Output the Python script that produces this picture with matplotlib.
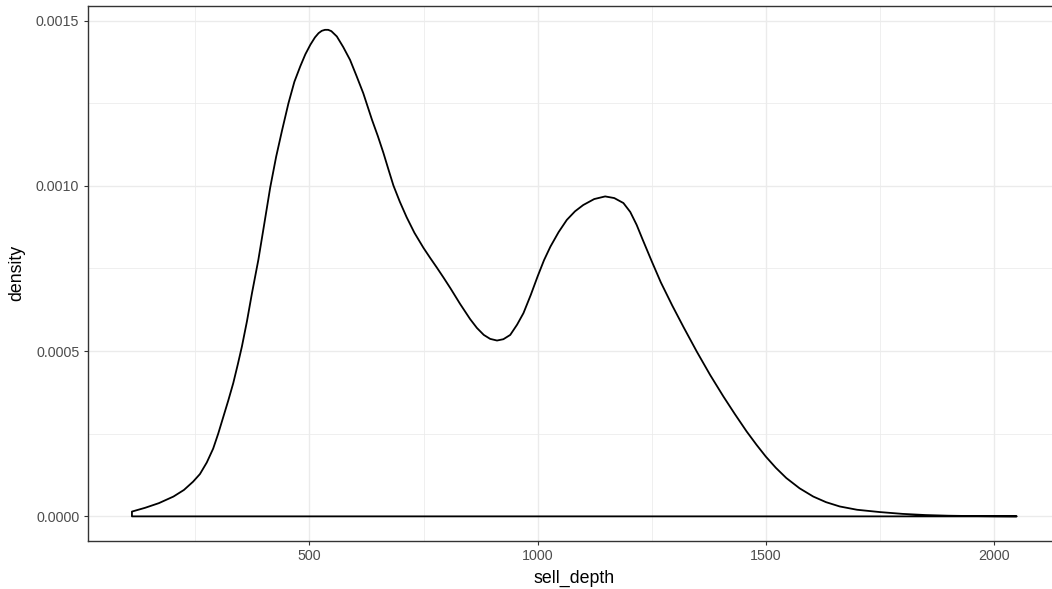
import matplotlib
matplotlib.use("Agg")
import matplotlib.pyplot as plt
from matplotlib.ticker import MultipleLocator, FixedLocator

plt.rcParams['font.family'] = ['Liberation Sans', 'DejaVu Sans']

# density curve of sell_depth
sell_depth = [111, 140, 170, 202, 225, 245, 260, 275, 289, 300, 311, 322,
              333, 343, 352, 363, 374, 388, 401, 414, 427, 440, 454, 467,
              480, 491, 502, 512, 520, 527, 534, 541, 548, 560, 574, 589,
              603, 618, 637, 650, 662, 673, 684, 698, 713, 730, 750, 765,
              779, 794, 809, 830, 852, 867, 882, 896, 911, 925, 940, 955,
              969, 985, 1000, 1014, 1028, 1046, 1064, 1082, 1100, 1124,
              1148, 1168, 1188, 1203, 1217, 1230, 1250, 1270, 1295, 1320,
              1349, 1378, 1407, 1432, 1458, 1480, 1500, 1522, 1545, 1574,
              1604, 1632, 1662, 1700, 1750, 1800, 1850, 1900, 1950, 2000,
              2050]
density = [0.0000145, 0.000026, 0.00004, 0.00006, 0.00008, 0.000105,
           0.000128, 0.000163, 0.000205, 0.00025, 0.0003, 0.00035,
           0.000403, 0.00046, 0.000514, 0.00059, 0.000675, 0.000776,
           0.000885, 0.000995, 0.001088, 0.001168, 0.00125, 0.001315,
           0.001362, 0.001398, 0.001427, 0.001449, 0.001462, 0.001469,
           0.001472, 0.001472, 0.001468, 0.001452, 0.00142, 0.001381,
           0.001333, 0.00128, 0.0012, 0.00115, 0.0011, 0.00105,
           0.001001, 0.000952, 0.000905, 0.000858, 0.000812, 0.000781,
           0.000753, 0.000722, 0.00069, 0.000643, 0.000597, 0.00057,
           0.000549, 0.000537, 0.000532, 0.000536, 0.000549, 0.00058,
           0.000615, 0.00067, 0.000726, 0.000775, 0.000816, 0.00086,
           0.000897, 0.000923, 0.000942, 0.00096, 0.000968, 0.000963,
           0.000948, 0.000921, 0.000882, 0.000838, 0.000772, 0.000708,
           0.000638, 0.000572, 0.000498, 0.000428, 0.000363, 0.00031,
           0.000257, 0.000216, 0.000181, 0.000147, 0.000116, 0.000085,
           0.00006, 0.000043, 0.00003, 0.00002, 0.000013, 0.0000075,
           0.000004, 0.000002, 0.000001, 0.0000004, 0.0]

x_ticks = [500, 1000, 1500, 2000]
y_ticks = [0.0, 0.0005, 0.0010, 0.0015]
y_tick_labels = ["0.0000", "0.0005", "0.0010", "0.0015"]

W, H = 1052, 589
fig = plt.figure(figsize=(W / 100, H / 100), dpi=100)
# panel right border sits just outside the picture, like the reference crop
left, right, top, bottom = 87.7, 1061, 5.5, 540.7
ax = fig.add_axes([left / W, 1 - bottom / H, (right - left) / W, (bottom - top) / H])

# ggplot-style expansion of 5% on each side
xr = max(sell_depth) - min(sell_depth)
yr = max(density) - min(density)
ax.set_xlim(min(sell_depth) - 0.05 * xr, max(sell_depth) + 0.05 * xr)
ax.set_ylim(min(density) - 0.05 * yr, max(density) + 0.05 * yr)

ax.xaxis.set_major_locator(FixedLocator(x_ticks))
ax.yaxis.set_major_locator(FixedLocator(y_ticks))
ax.set_yticklabels(y_tick_labels)
ax.xaxis.set_minor_locator(MultipleLocator(250))
ax.yaxis.set_minor_locator(MultipleLocator(0.00025))

ax.grid(which='major', color='#EBEBEB', linewidth=1.0)
ax.grid(which='minor', color='#EBEBEB', linewidth=0.55)
ax.set_axisbelow(True)

# outline polygon like geom_density: curve, then back along the baseline
poly_x = sell_depth + [sell_depth[-1], sell_depth[0]]
poly_y = density + [0.0, 0.0]
ax.fill(poly_x, poly_y, facecolor='none', edgecolor='black',
        linewidth=1.3, joinstyle='round', zorder=3)

for s in ax.spines.values():
    s.set_color('#333333')
    s.set_linewidth(1.0)

ax.tick_params(which='major', length=3.0, width=0.8, color='#333333',
               labelcolor='#4D4D4D', labelsize=10.3, pad=3)
ax.tick_params(which='minor', length=0)

ax.set_xlabel("sell_depth", fontsize=12.8)
ax.set_ylabel("density", fontsize=12.8, labelpad=8)
ax.xaxis.set_label_coords((574 - left) / (right - left), -0.055)

fig.savefig("out.png", dpi=100)
